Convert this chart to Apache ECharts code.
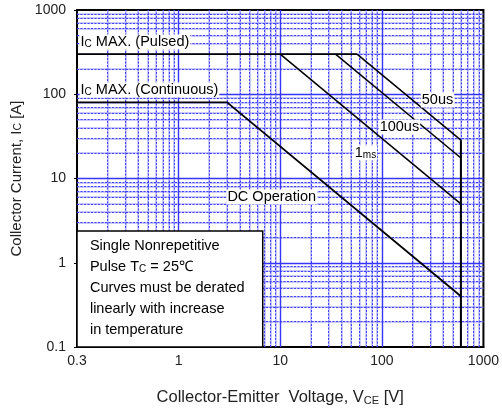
<!DOCTYPE html>
<html>
<head>
<meta charset="utf-8">
<script src="https://cdn.jsdelivr.net/npm/echarts@6/dist/echarts.min.js"></script>
<style>html,body{margin:0;padding:0;background:#fff}#c{width:502px;height:415px}</style>
</head>
<body>
<div id="c"></div>
<script>
// ---- data ----
const xTickValues = [0.1, 1, 10, 100, 1000];
const xTickLabels = ['0.3', '1', '10', '100', '1000'];
const yTickValues = [0.1, 1, 10, 100, 1000];
const yTickLabels = ['0.1', '1', '10', '100', '1000'];
const minorMantissas = [2, 3, 4, 5, 6, 7, 8, 9];
const xDecades = [0.1, 1, 10, 100];
const yDecades = [0.1, 1, 10, 100];
const xMajorGrid = [1, 10, 100];
const yMajorGrid = [1, 10, 100];

const pulsedLimit = [[0.1, 300], [57, 300]];
const dcOperation = [[0.1, 80], [3, 80], [600, 0.4]];
const curve1ms = [[10, 300], [600, 5]];
const curve100us = [[35, 300], [600, 17.5]];
const curve50us = [[57, 300], [600, 28.5]];
const vceLimit = [[600, 28.5], [600, 0.1]];

// annotation anchors (data coordinates)
const annPulsed = [0.106, 417];
const annContinuous = [0.106, 112];
const ann50us = [353, 85.5];
const ann100us = [149, 40.8];
const ann1ms = [69, 20.1];
const annDC = [8.25, 6.03];
const noteBoxTopRight = [6.73, 2.38];
const noteTextX = 0.134;
const noteLineY = [1.58, 0.89, 0.50, 0.28, 0.16];

const FONT = '"Liberation Sans", Arial, sans-serif';
const chart = echarts.init(document.getElementById('c'), null, {renderer: 'canvas'});

const minorX = [], minorY = [];
xDecades.forEach(d => minorMantissas.forEach(m => minorX.push(+(m * d).toPrecision(3))));
yDecades.forEach(d => minorMantissas.forEach(m => minorY.push(+(m * d).toPrecision(3))));

const faint = () => ({color: 'rgba(120,120,255,0.4)', width: 2, type: 'solid', opacity: 1});
const dot = () => ({color: '#4040ff', width: 1, type: [2, 1.5], opacity: 1});
const major = () => ({color: '#3535ff', width: 1.4, type: 'solid', opacity: 1});

function vLines(values, styleFn) {
  return values.map(v => [{coord: [v, 0.1], lineStyle: styleFn()}, {coord: [v, 1000]}]);
}
function hLines(values, styleFn) {
  return values.map(v => [{coord: [0.1, v], lineStyle: styleFn()}, {coord: [1000, v]}]);
}
const gridLines = [].concat(
  vLines(minorX, faint), vLines(minorX, dot),
  hLines(minorY, faint), hLines(minorY, dot),
  vLines(xMajorGrid, major), hLines(yMajorGrid, major)
);

function curve(data, w) {
  return {type: 'line', data: data, showSymbol: false, symbol: 'none', silent: true, z: 5,
    lineStyle: {color: '#000', width: w}, animation: false};
}

const rich = {
  n: {fontSize: 14.5, fontFamily: FONT, color: '#222'},
  s: {fontSize: 10, fontFamily: FONT, color: '#222', verticalAlign: 'bottom'},
  xn: {fontSize: 16.5, fontFamily: FONT, color: '#222'},
  xs: {fontSize: 11, fontFamily: FONT, color: '#222', verticalAlign: 'bottom'},
  yn: {fontSize: 15, fontFamily: FONT, color: '#222'},
  ys: {fontSize: 10.5, fontFamily: FONT, color: '#222', verticalAlign: 'bottom'}
};

chart.setOption({
  animation: false,
  backgroundColor: '#fff',
  grid: {left: 77, right: 18, top: 10, bottom: 68, show: true, borderColor: '#000', borderWidth: 2, backgroundColor: '#fff'},
  xAxis: {
    type: 'log', logBase: 10, min: 0.1, max: 1000,
    axisLine: {show: true, lineStyle: {color: '#000', width: 2}},
    axisTick: {show: false},
    splitLine: {show: false},
    axisLabel: {fontSize: 14, fontFamily: FONT, color: '#222', margin: 7,
      formatter: v => { const i = xTickValues.findIndex(t => Math.abs(Math.log10(t) - Math.log10(v)) < 1e-6); return i >= 0 ? xTickLabels[i] : ''; }},
    name: '{xn|Collector-Emitter  Voltage, V}{xs|CE}{xn| [V]}',
    nameLocation: 'middle', nameGap: 42,
    nameTextStyle: {rich: rich}
  },
  yAxis: {
    type: 'log', logBase: 10, min: 0.1, max: 1000,
    axisLine: {show: true, lineStyle: {color: '#000', width: 2}},
    axisTick: {show: true, length: 3, lineStyle: {color: '#000'}},
    splitLine: {show: false},
    axisLabel: {fontSize: 14, fontFamily: FONT, color: '#222', margin: 11,
      formatter: v => { const i = yTickValues.findIndex(t => Math.abs(Math.log10(t) - Math.log10(v)) < 1e-6); return i >= 0 ? yTickLabels[i] : ''; }},
    name: '{yn|Collector Current, I}{ys|C}{yn| [A]}',
    nameLocation: 'middle', nameGap: 52,
    nameTextStyle: {rich: rich}
  },
  series: [
    {type: 'line', data: [], z: 1, silent: true, color: '#3535ff',
      markLine: {silent: true, symbol: 'none', animation: false, label: {show: false}, z: 1,
        lineStyle: {color: '#4040ff', opacity: 1}, emphasis: {disabled: true}, data: gridLines}},
    curve(pulsedLimit, 1.8),
    curve(dcOperation, 1.8),
    curve(curve1ms, 1.5),
    curve(curve100us, 1.5),
    curve(curve50us, 1.5),
    curve(vceLimit, 2)
  ]
});

function px(p) { return chart.convertToPixel({gridIndex: 0}, p); }
function label(anchor, text, align) {
  const p = px(anchor);
  return {type: 'text', z: 20, x: p[0], y: p[1],
    style: {text: text, rich: rich, align: align || 'center', verticalAlign: 'middle',
      backgroundColor: '#fff', padding: [0, 1, 0, 1]}};
}
const tl = px([0.1, noteBoxTopRight[1]]);
const br = px([noteBoxTopRight[0], 0.1]);
const graphics = [
  label(annPulsed, '{n|I}{s|C}{n| MAX. (Pulsed)}', 'left'),
  label(annContinuous, '{n|I}{s|C}{n| MAX. (Continuous)}', 'left'),
  label(ann50us, '{n|50us}'),
  label(ann100us, '{n|100us}'),
  label(ann1ms, '{n|1}{s|ms}'),
  label(annDC, '{n|DC Operation}'),
  {type: 'rect', z: 20, shape: {x: tl[0], y: tl[1], width: br[0] - tl[0], height: br[1] - tl[1]},
    style: {fill: '#fff', stroke: '#000', lineWidth: 1.5}}
];
const noteLines = ['{n|Single Nonrepetitive}', '{n|Pulse T}{s|C}{n| = 25℃}', '{n|Curves must be derated}',
  '{n|linearly with increase}', '{n|in temperature}'];
noteLines.forEach((t, i) => {
  const p = px([noteTextX, noteLineY[i]]);
  graphics.push({type: 'text', z: 21, x: p[0], y: p[1], style: {text: t, rich: rich, align: 'left', verticalAlign: 'middle'}});
});
chart.setOption({graphic: graphics});
</script>
</body>
</html>
